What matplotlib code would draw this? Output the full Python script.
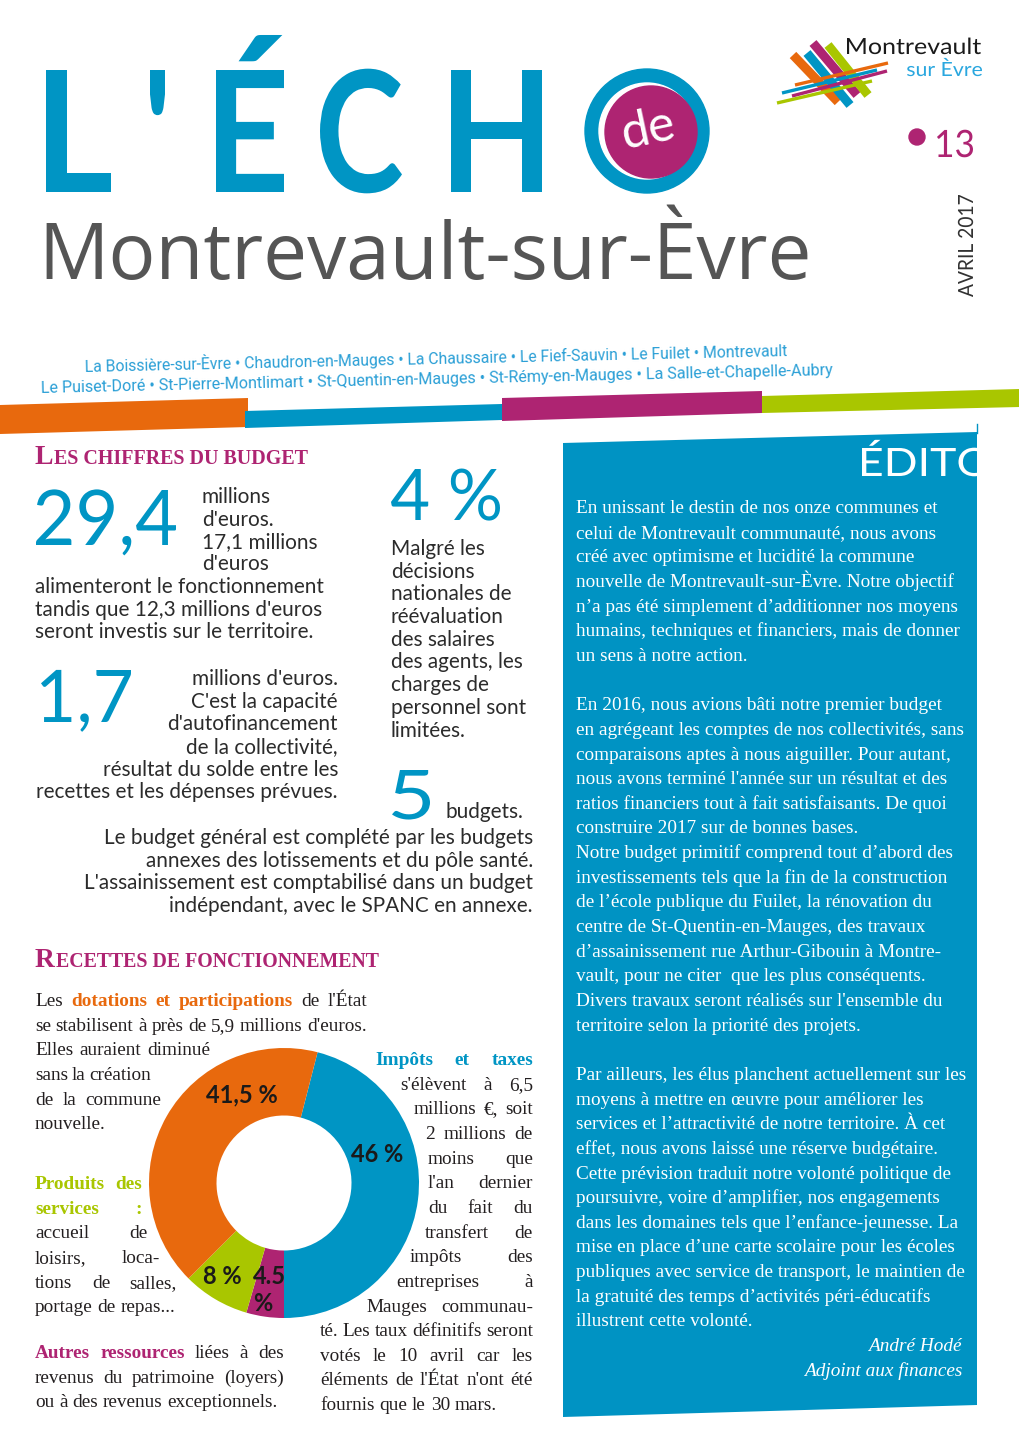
import numpy as np
import matplotlib.pyplot as plt
from matplotlib.patches import Polygon, Circle, PathPatch
from matplotlib.textpath import TextPath
from matplotlib.font_manager import FontProperties
from matplotlib.transforms import Affine2D

# Recettes de fonctionnement : part de chaque recette (%)
slice_names = ["Impôts et taxes", "Autres ressources", "Produits des services",
               "Dotations et participations"]
slice_shares = [46, 4.5, 8, 41.5]
slice_labels = ["46 %", "4.5\n%", "8 %", "41,5 %"]

towns_row1 = ["La Boissière-sur-Èvre", "Chaudron-en-Mauges", "La Chaussaire",
              "Le Fief-Sauvin", "Le Fuilet", "Montrevault"]
towns_row2 = ["Le Puiset-Doré", "St-Pierre-Montlimart", "St-Quentin-en-Mauges",
              "St-Rémy-en-Mauges", "La Salle-et-Chapelle-Aubry"]

edito_lines = [
    "En unissant le destin de nos onze communes et",
    "celui de Montrevault communauté, nous avons",
    "créé avec optimisme et lucidité la commune",
    "nouvelle de Montrevault-sur-Èvre. Notre objectif",
    "n’a pas été simplement d’additionner nos moyens",
    "humains, techniques et financiers, mais de donner",
    "un sens à notre action.",
    "",
    "En 2016, nous avions bâti notre premier budget",
    "en agrégeant les comptes de nos collectivités, sans",
    "comparaisons aptes à nous aiguiller. Pour autant,",
    "nous avons terminé l'année sur un résultat et des",
    "ratios financiers tout à fait satisfaisants. De quoi",
    "construire 2017 sur de bonnes bases.",
    "Notre budget primitif comprend tout d’abord des",
    "investissements tels que la fin de la construction",
    "de l’école publique du Fuilet, la rénovation du",
    "centre de St-Quentin-en-Mauges, des travaux",
    "d’assainissement rue Arthur-Gibouin à Montre-",
    "vault, pour ne citer  que les plus conséquents.",
    "Divers travaux seront réalisés sur l'ensemble du",
    "territoire selon la priorité des projets.",
    "",
    "Par ailleurs, les élus planchent actuellement sur les",
    "moyens à mettre en œuvre pour améliorer les",
    "services et l’attractivité de notre territoire. À cet",
    "effet, nous avons laissé une réserve budgétaire.",
    "Cette prévision traduit notre volonté politique de",
    "poursuivre, voire d’amplifier, nos engagements",
    "dans les domaines tels que l’enfance-jeunesse. La",
    "mise en place d’une carte scolaire pour les écoles",
    "publiques avec service de transport, le maintien de",
    "la gratuité des temps d’activités péri-éducatifs",
    "illustrent cette volonté.",
]

BLUE = "#0095C4"
ORANGE = "#E8690D"
PURPLE = "#AE2472"
GREEN = "#A9C600"
TXT = "#2B2B2B"
SANS = "Lato"
SERIF = "Liberation Serif"

W, H = 1020, 1442
fig = plt.figure(figsize=(W / 100, H / 100), dpi=100)
ax = fig.add_axes([0, 0, 1, 1])
ax.set_xlim(0, W)
ax.set_ylim(H, 0)
ax.axis("off")
ax.set_zorder(2)
R = fig.canvas.get_renderer()


def width(t):
    return t.get_window_extent(R).width


def fit(x, y, s, w, **kw):
    kw.setdefault("va", "baseline")
    t = ax.text(x, y, s, fontsize=20, **kw)
    t.set_fontsize(20 * w / width(t))
    return t


def space_w(**kw):
    a = ax.text(0, 0, "n n", **kw)
    b = ax.text(0, 0, "nn", **kw)
    s = width(a) - width(b)
    a.remove()
    b.remove()
    return s


def glyphs(s, x0, base, cap, w=None, weight="normal", color="k", rot=False, clip=None):
    # outline text scaled to a given cap height and ink width
    fp = FontProperties(family=SANS, weight=weight)
    tp = TextPath((0, 0), s, size=100, prop=fp)
    hcap = TextPath((0, 0), "H", size=100, prop=fp).get_extents().height
    ext = tp.get_extents()
    sy = cap / hcap
    sx = w / ext.width if w else sy
    m = Affine2D().translate(-ext.x0, 0).scale(sx, sy).get_matrix()
    if rot:
        m = np.array([[0, -1, 0], [-1, 0, 0], [0, 0, 1.0]]) @ m
    else:
        m = np.diag([1, -1, 1.0]) @ m
    tr = Affine2D(m).translate(x0, base)
    p = PathPatch(tr.transform_path(tp), facecolor=color, lw=0)
    ax.add_patch(p)
    if clip is not None:
        p.set_clip_path(clip)
    return p


# ---------------- header ----------------
title_letters = [("L", 46, 65), ("'", 150, 15), ("É", 216, 68), ("C", 320, 82), ("H", 451, 91)]
for ch, x, w in title_letters:
    glyphs(ch, x, 192, 122, w, weight="bold", color=BLUE)
ax.add_patch(Circle((647, 131), 62, color=BLUE))
ax.add_patch(Circle((647, 131), 48, color="white"))
ax.add_patch(Circle((651, 132), 46, color=PURPLE))
ax.text(649, 130, "de", family=SANS, fontsize=36, color="white", ha="center",
        va="center", rotation=12, rotation_mode="anchor")

fit(38, 279, "Montrevault-sur-Èvre", 774, family="Open Sans", color="#555555")

# logo
bars = [((793, 55), (838, 102), ORANGE), ((807, 53), (850, 105), BLUE),
        ((813, 43), (857, 95), PURPLE), ((828, 45), (868, 95), GREEN)]
for p0, p1, c in bars:
    ax.plot([p0[0], p1[0]], [p0[1], p1[1]], color=c, lw=6.5, solid_capstyle="butt")
strokes = [((795, 85), (888, 63), ORANGE), ((782, 93), (877, 70), BLUE),
           ((792, 96), (887, 71), PURPLE), ((777, 103), (872, 81), GREEN)]
for p0, p1, c in strokes:
    ax.plot([p0[0], p1[0]], [p0[1], p1[1]], color=c, lw=2.4, solid_capstyle="butt")
glyphs("Montrevault", 847, 54, 16, 134, color="#1A1A1A")
glyphs("sur Èvre", 907, 76, 14, 75, color="#2AA7DF")

ax.add_patch(Circle((917, 137), 8, color=PURPLE))
glyphs("13", 937, 157, 27, 36, color=PURPLE)
glyphs("AVRIL 2017", 973, 297, 15, 102, color="#333333", rot=True)

# town list
for row, (x0, y0, length) in [(towns_row1, (85, 372, 703)), (towns_row2, (41, 393, 790))]:
    t = fit(x0, y0, " • ".join(row), length, family="Roboto", color="#2A9FD6")
    t.set_rotation(1.3)
    t.set_rotation_mode("anchor")

# colour bands
bands = [([(0, 405), (248, 398), (248, 427), (0, 434)], ORANGE),
         ([(245, 411), (502, 404), (502, 420), (245, 428)], BLUE),
         ([(502, 398), (762, 391), (762, 413), (502, 421)], PURPLE),
         ([(762, 396), (1020, 389), (1020, 407), (762, 413)], GREEN)]
for pts, c in bands:
    ax.add_patch(Polygon(pts, closed=True, color=c, lw=0))

# ---------------- edito box ----------------
box = Polygon([(563, 443), (977, 432), (977, 1405), (563, 1417)], closed=True,
              color="#0093C3", lw=0)
ax.add_patch(box)
ax.plot([977, 977], [424, 433], color="#0093C3", lw=1)
glyphs("ÉDITO", 862, 476, 28, 128, color="white", clip=box)

probe = ax.text(0, 0, "humains, techniques et financiers, mais de donner",
                family=SERIF, fontsize=13)
SZ = 13 * 382 / width(probe)
probe.remove()

for i, s in enumerate(edito_lines):
    ax.text(576, 508 + i * 24.65 + 5, s, family=SERIF, fontsize=SZ, color="white",
            va="baseline")
ax.text(962, 1346 + 5, "André Hodé", family=SERIF, style="italic", fontsize=SZ,
        color="white", ha="right", va="baseline")
ax.text(962, 1371 + 5, "Adjoint aux finances", family=SERIF, style="italic",
        fontsize=SZ, color="white", ha="right", va="baseline")


# ---------------- left column ----------------
def smallcaps(x, y, big, rest, w):
    kw = dict(family=SERIF, fontweight="bold", color=PURPLE, va="baseline")
    t1 = ax.text(x, y, big, fontsize=18, **kw)
    t2 = ax.text(x, y, rest, fontsize=13, **kw)
    k = w / (width(t1) + 1 + width(t2))
    t1.set_fontsize(18 * k)
    t2.set_fontsize(13 * k)
    t2.set_x(x + width(t1) + 1)


smallcaps(35, 464, "L", "ES CHIFFRES DU BUDGET", 274)
smallcaps(35, 967, "R", "ECETTES DE FONCTIONNEMENT", 344)

probe = ax.text(0, 0, "alimenteront le fonctionnement", family=SANS, fontsize=15)
SS = 15 * 289 / width(probe)
probe.remove()
sans = dict(family=SANS, fontsize=SS, color=TXT, va="baseline")

glyphs("29,4", 36, 545, 55, 140, color=BLUE)
glyphs("1,7", 41, 722, 52, 90, color=BLUE)
glyphs("4 %", 391, 520, 51, 109, color=BLUE)
glyphs("5", 392, 819, 49, 38, color=BLUE)

for i, s in enumerate(["millions", "d'euros.", "17,1 millions", "d'euros"]):
    ax.text(202, 497 + i * 22.5 + 6, s, **sans)
for i, s in enumerate(["alimenteront le fonctionnement", "tandis que 12,3 millions d'euros",
                       "seront investis sur le territoire."]):
    ax.text(35, 587 + i * 22.5 + 6, s, **sans)
for i, s in enumerate(["millions d'euros.", "C'est la capacité", "d'autofinancement",
                       "de la collectivité,", "résultat du solde entre les",
                       "recettes et les dépenses prévues."]):
    ax.text(338, 679 + i * 22.7 + 6, s, ha="right", **sans)
for i, s in enumerate(["Malgré les", "décisions", "nationales de", "réévaluation",
                       "des salaires", "des agents, les", "charges de",
                       "personnel sont", "limitées."]):
    ax.text(391, 549 + i * 22.7 + 6, s, **sans)
ax.text(446, 818, "budgets.", **sans)
for i, s in enumerate(["Le budget général est complété par les budgets",
                       "annexes des lotissements et du pôle santé.",
                       "L'assainissement est comptabilisé dans un budget",
                       "indépendant, avec le SPANC en annexe."]):
    ax.text(533, 838 + i * 22.7 + 6, s, ha="right", **sans)


# justified serif paragraphs
def serif_line(yc, x0, x1, parts, align="justify"):
    base = dict(family=SERIF, fontsize=SZ, color="#231F20")
    items = []
    for txt, c in parts:
        for w in txt.split():
            kw = dict(base)
            if c:
                kw.update(color=c, fontweight="bold")
            items.append(ax.text(0, yc + 5, w, va="baseline", ha="left", **kw))
    ws = [width(t) for t in items]
    sp = space_w(**base)
    if align == "justify" and len(items) > 1:
        gap = max((x1 - x0 - sum(ws)) / (len(items) - 1), sp * 0.5)
        x = x0
    else:
        gap = sp
        x = x0 if align == "left" else x1 - sum(ws) - sp * (len(items) - 1)
    for t, w in zip(items, ws):
        t.set_x(x)
        x += w + gap


N = None
left_lines = [
    (1001, 35, 367, [("Les", N), ("dotations et participations", ORANGE), ("de l'État", N)], "justify"),
    (1026, 35, 367, [("se stabilisent à près de 5,9 millions d'euros.", N)], "justify"),
    (1050, 35, 210, [("Elles auraient diminué", N)], "justify"),
    (1075, 35, 151, [("sans la création", N)], "justify"),
    (1100, 35, 161, [("de la commune", N)], "justify"),
    (1124, 35, 0, [("nouvelle.", N)], "left"),
    (1184, 35, 142, [("Produits des", GREEN)], "justify"),
    (1209, 35, 142, [("services :", GREEN)], "justify"),
    (1233, 35, 148, [("accueil de", N)], "justify"),
    (1258, 35, 160, [("loisirs, loca-", N)], "justify"),
    (1283, 35, 177, [("tions de salles,", N)], "justify"),
    (1307, 35, 0, [("portage de repas...", N)], "left"),
    (1353, 35, 284, [("Autres ressources", PURPLE), ("liées à des", N)], "justify"),
    (1378, 35, 284, [("revenus du patrimoine (loyers)", N)], "justify"),
    (1402, 35, 0, [("ou à des revenus exceptionnels.", N)], "left"),
]
right_lines = [
    (1060, 375, 533, [("Impôts et taxes", BLUE)], "justify"),
    (1085, 400, 533, [("s'élèvent à 6,5", N)], "justify"),
    (1109, 414, 533, [("millions €, soit", N)], "justify"),
    (1134, 425, 533, [("2 millions de", N)], "justify"),
    (1159, 428, 533, [("moins que", N)], "justify"),
    (1183, 428, 533, [("l'an dernier", N)], "justify"),
    (1208, 428, 533, [("du fait du", N)], "justify"),
    (1233, 425, 533, [("transfert de", N)], "justify"),
    (1257, 410, 533, [("impôts des", N)], "justify"),
    (1282, 396, 533, [("entreprises à", N)], "justify"),
    (1307, 366, 533, [("Mauges communau-", N)], "justify"),
    (1331, 320, 533, [("té. Les taux définitifs seront", N)], "justify"),
    (1356, 320, 533, [("votés le 10 avril car les", N)], "justify"),
    (1380, 320, 533, [("éléments de l'État n'ont été", N)], "justify"),
    (1405, 320, 0, [("fournis que le 30 mars.", N)], "left"),
]
for yc, x0, x1, parts, al in left_lines + right_lines:
    serif_line(yc, x0, x1, parts, al)

# ---------------- donut ----------------
cx, cy, r = 284, 1183, 135
axp = fig.add_axes([(cx - r) / W, 1 - (cy + r) / H, 2 * r / W, 2 * r / H])
axp.set_zorder(1)
axp.pie(slice_shares, colors=[BLUE, PURPLE, GREEN, ORANGE], radius=1,
        startangle=-90 + slice_shares[0] * 3.6, counterclock=False,
        wedgeprops=dict(width=0.5, linewidth=0))
axp.set_xlim(-1, 1)
axp.set_ylim(-1, 1)
axp.axis("off")

label_pos = [(377, 1154, "center"), (253, 1290, "left"), (222, 1276, "center"),
             (242, 1095, "center")]
for lab, (x, y, ha) in zip(slice_labels, label_pos):
    ax.text(x, y, lab, family=SANS, fontweight="bold", fontsize=17, color="#1A1A1A",
            ha=ha, va="center", linespacing=1.25, zorder=5)

fig.savefig("out.png", dpi=100)
